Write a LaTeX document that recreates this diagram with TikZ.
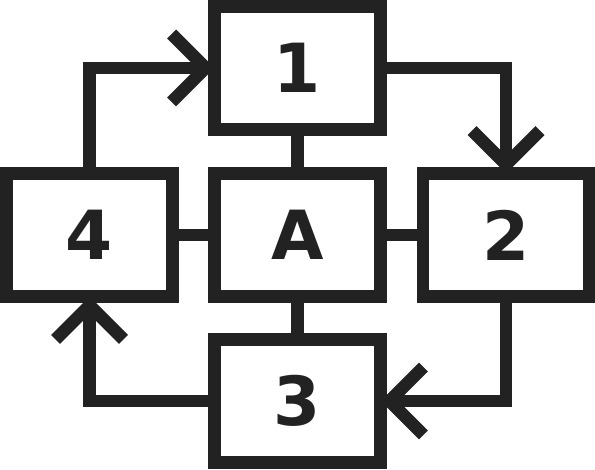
\documentclass[tikz,border=0pt]{standalone}
\usepackage{fontspec}
\setmainfont{DejaVu Sans}
\usetikzlibrary{arrows.meta}
\definecolor{ink}{HTML}{222222}

\begin{document}
\begin{tikzpicture}[x=1bp, y=-1bp, line width=12.7bp,
        box/.style={draw=ink, text=ink, minimum width=166bp, minimum height=123bp,
            inner sep=0pt, outer sep=0pt, font=\fontsize{68}{68}\selectfont\bfseries},
        link/.style={draw=ink},
        flow/.style={draw=ink, -{Straight Barb[length=34bp, width=68bp, line cap=butt, line join=miter]}}]
                \useasboundingbox (0, 0) rectangle (595, 470);

                \node[box] (one) at (297.5, 68) {1};
                \node[box] (hub) at (297.5, 235) {A};
                \node[box] (four) at (89.5, 235) {4};
                \node[box] (two) at (506, 235) {2};
                \node[box] (three) at (297.5, 401) {3};

                % spokes from A
                \draw[link] (hub.north) -- (one.south);
                \draw[link] (hub.west) -- (four.east);
                \draw[link] (hub.east) -- (two.west);
                \draw[link] (hub.south) -- (three.north);

                % the cycle 1 -> 2 -> 3 -> 4 -> 1
                \draw[flow] (one.east) -| (two.north);
                \draw[flow] (two.south) |- (three.east);
                \draw[flow] (three.west) -| (four.south);
                \draw[flow] (four.north) |- (one.west);
            \end{tikzpicture}
\end{document}
